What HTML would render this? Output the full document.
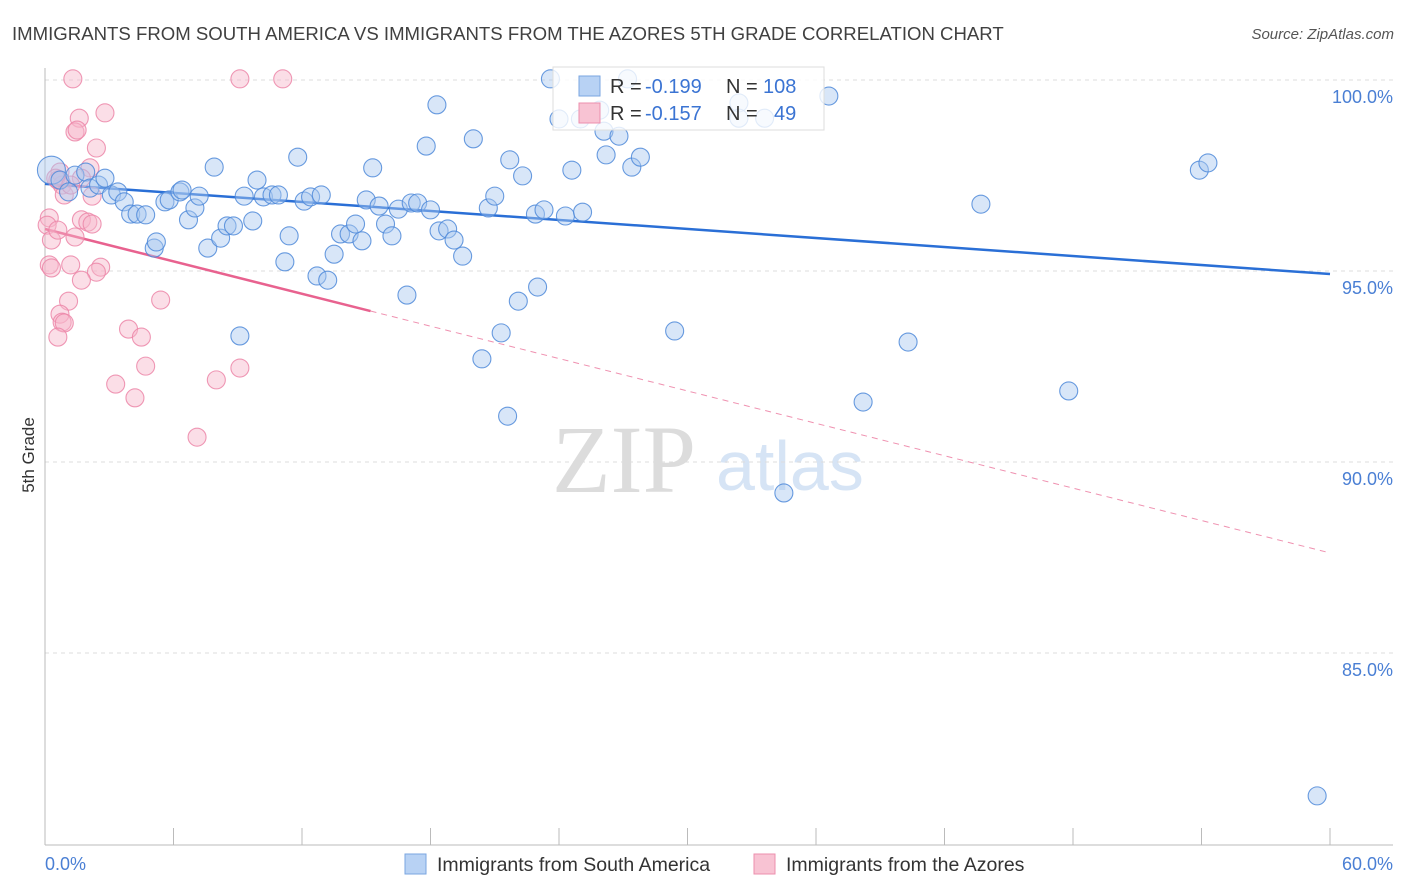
<!DOCTYPE html>
<html><head><meta charset="utf-8"><style>
body{margin:0;background:#fff;}
svg{display:block;font-family:"Liberation Sans",sans-serif;}
</style></head><body>
<svg id="chart" width="1406" height="892" viewBox="0 0 1406 892">
<text x="12" y="40" font-size="18.6" fill="#404040">IMMIGRANTS FROM SOUTH AMERICA VS IMMIGRANTS FROM THE AZORES 5TH GRADE CORRELATION CHART</text>
<text x="1394" y="39" font-size="15" fill="#555" text-anchor="end" font-style="italic">Source: ZipAtlas.com</text>
<g>
<text x="552" y="492" font-size="96" font-family="Liberation Serif,serif" fill="#dcdcdc">ZIP</text>
<text x="716" y="490" font-size="70" fill="#d6e4f5">atlas</text>
</g>
<g id="grid"></g>
<g id="axes"></g>
<g id="trend"></g>
<g id="pts"></g>
<g>
<rect x="553" y="67" width="271" height="63" fill="#fff" fill-opacity="0.8" stroke="#ddd"/>
<rect x="579" y="76" width="21" height="20" fill="#b8d2f4" stroke="#7aa6e0"/>
<rect x="579" y="103" width="21" height="20" fill="#f8c3d3" stroke="#ec8fae"/>
<text x="610" y="93" font-size="20" fill="#333">R =</text>
<text x="645" y="93" font-size="20" fill="#3b74d3">-0.199</text>
<text x="726" y="93" font-size="20" fill="#333">N =</text>
<text x="763" y="93" font-size="20" fill="#3b74d3">108</text>
<text x="610" y="120" font-size="20" fill="#333">R =</text>
<text x="645" y="120" font-size="20" fill="#3b74d3">-0.157</text>
<text x="726" y="120" font-size="20" fill="#333">N =</text>
<text x="774" y="120" font-size="20" fill="#3b74d3">49</text>
</g>
<text transform="translate(34,455) rotate(-90)" font-size="17" fill="#333" text-anchor="middle">5th Grade</text>
<text x="45" y="870" font-size="18" fill="#4a7fd4">0.0%</text>
<text x="1393" y="870" font-size="18" fill="#4a7fd4" text-anchor="end">60.0%</text>
<g>
<rect x="405" y="854" width="21" height="20" fill="#b8d2f4" stroke="#7aa6e0"/>
<text x="437" y="871" font-size="19.5" fill="#333">Immigrants from South America</text>
</g>
<g>
<rect x="754" y="854" width="21" height="20" fill="#f8c3d3" stroke="#ec8fae"/>
<text x="786" y="871" font-size="19.5" fill="#333">Immigrants from the Azores</text>
</g>
</svg>
<script>
const yTicks=[100,95,90,85];
const yTickLabels=["100.0%","95.0%","90.0%","85.0%"];
const blueX=[0.3,0.7,1.1,1.4,1.9,2.1,2.5,2.8,3.1,3.4,3.7,4.0,4.3,4.7,5.1,5.2,5.6,5.8,6.3,6.4,6.7,7.0,7.2,7.6,7.9,8.2,8.5,8.8,9.1,9.3,9.7,9.9,10.2,10.6,10.9,11.2,11.4,11.8,12.1,12.4,12.7,12.9,13.2,13.5,13.8,14.2,14.5,14.8,15.0,15.3,15.6,15.9,16.2,16.5,16.9,17.1,17.4,17.8,18.0,18.3,18.4,18.8,19.1,19.5,20.0,20.4,20.7,21.0,21.3,21.6,21.7,22.1,22.3,22.9,23.0,23.3,23.6,24.0,24.3,24.6,25.0,25.1,25.9,26.1,26.2,26.8,27.2,27.4,27.8,29.4,32.4,32.4,33.6,34.5,36.6,38.2,40.3,43.7,47.8,53.9,54.3,59.4];
const blueY=[97.64,97.38,97.07,97.51,97.59,97.17,97.25,97.43,96.99,97.07,96.81,96.49,96.49,96.47,95.60,95.76,96.81,96.86,97.07,97.12,96.34,96.65,96.96,95.60,97.72,95.86,96.18,96.18,93.30,96.96,96.31,97.38,96.94,96.99,96.99,95.24,95.92,97.98,96.83,96.94,94.87,96.99,94.76,95.44,95.97,95.97,96.23,95.79,96.86,97.70,96.70,96.23,95.92,96.62,94.37,96.78,96.78,98.27,96.60,99.35,96.05,96.10,95.81,95.39,98.46,92.70,96.65,96.96,93.38,91.20,97.91,94.21,97.49,96.49,94.58,96.60,100.03,98.98,96.44,97.64,98.98,96.54,99.21,98.66,98.04,98.53,100.03,97.72,97.98,93.43,99.40,99.0,99.0,89.19,99.58,91.57,93.14,96.75,91.86,97.64,97.83,81.26];
const pinkX=[1.3,9.1,11.1,1.6,2.8,1.4,1.5,2.4,2.1,0.7,0.8,0.9,2.2,1.7,0.6,0.5,1.2,0.2,0.1,0.3,0.6,1.4,1.7,2.0,2.2,0.2,0.3,1.2,2.6,2.4,1.7,1.1,0.7,0.8,0.9,0.6,3.9,4.5,5.4,3.3,4.2,4.7,8.0,9.1,7.1];
const pinkY=[100.03,100.03,100.03,99.0,99.14,98.64,98.69,98.22,97.70,97.59,97.25,96.99,96.96,97.43,97.38,97.43,97.25,96.39,96.20,95.81,96.07,95.89,96.34,96.28,96.23,95.16,95.08,95.16,95.10,94.97,94.76,94.21,93.87,93.66,93.64,93.27,93.48,93.27,94.24,92.04,91.68,92.51,92.15,92.46,90.65];
const blueTrend=[97.28,94.92];
const pinkTrend=[96.1,87.62];
const pinkSolidEnd=15.2;
const NS="http://www.w3.org/2000/svg";
const X0=45,X1=1330,Y100=80,PXPER=38.2;
function sx(v){return X0+(v/60)*(X1-X0);}
function sy(v){return Y100+(100-v)*PXPER;}
function mk(tag,attrs,parent){const e=document.createElementNS(NS,tag);for(const k in attrs)e.setAttribute(k,attrs[k]);parent.appendChild(e);return e;}
const grid=document.getElementById('grid'),axes=document.getElementById('axes'),trend=document.getElementById('trend'),pts=document.getElementById('pts');
yTicks.forEach((t,i)=>{
 const l=mk('line',{x1:X0,x2:1393,y1:sy(t),y2:sy(t),stroke:'#ddd','stroke-dasharray':'4,4'},grid);
 
 
 const tx=mk('text',{x:1393,y:sy(t)+23,'font-size':18,fill:'#4a7fd4','text-anchor':'end'},grid);
 tx.textContent=yTickLabels[i];
 
 
});
const yl=mk('line',{x1:X0,x2:X0,y1:68,y2:845,stroke:'#bbb'},axes);


const xl=mk('line',{x1:X0,x2:1393,y1:845,y2:845,stroke:'#bbb'},axes);


for(let k=0;k<=10;k++){const t=mk('line',{x1:sx(k*6),x2:sx(k*6),y1:828,y2:845,stroke:'#bbb'},axes);
 
 }
function drawPts(xs,ys,fill,stroke,name){xs.forEach((x,i)=>{
 const c=mk('circle',{cx:sx(x),cy:sy(ys[i]),r:(name==='blue-point'&&i===0)?14:9,fill:fill,'fill-opacity':0.45,stroke:stroke,'stroke-width':1.1,'stroke-opacity':0.85},pts);
 
 });}
drawPts(pinkX,pinkY,'#f6b6ca','#ec86a8','pink-point');
drawPts(blueX,blueY,'#a9c8f0','#4f8ad9','blue-point');
const b=mk('line',{x1:sx(0),y1:sy(blueTrend[0]),x2:sx(60),y2:sy(blueTrend[1]),stroke:'#2a6fd6','stroke-width':2.5},trend);


const py=x=>pinkTrend[0]+(pinkTrend[1]-pinkTrend[0])*x/60;
const p1=mk('line',{x1:sx(0),y1:sy(pinkTrend[0]),x2:sx(pinkSolidEnd),y2:sy(py(pinkSolidEnd)),stroke:'#e8628f','stroke-width':2.5},trend);


const p2=mk('line',{x1:sx(pinkSolidEnd),y1:sy(py(pinkSolidEnd)),x2:sx(60),y2:sy(pinkTrend[1]),stroke:'#e8628f','stroke-width':1,'stroke-dasharray':'6,5','stroke-opacity':0.7},trend);


</script>
</body></html>
